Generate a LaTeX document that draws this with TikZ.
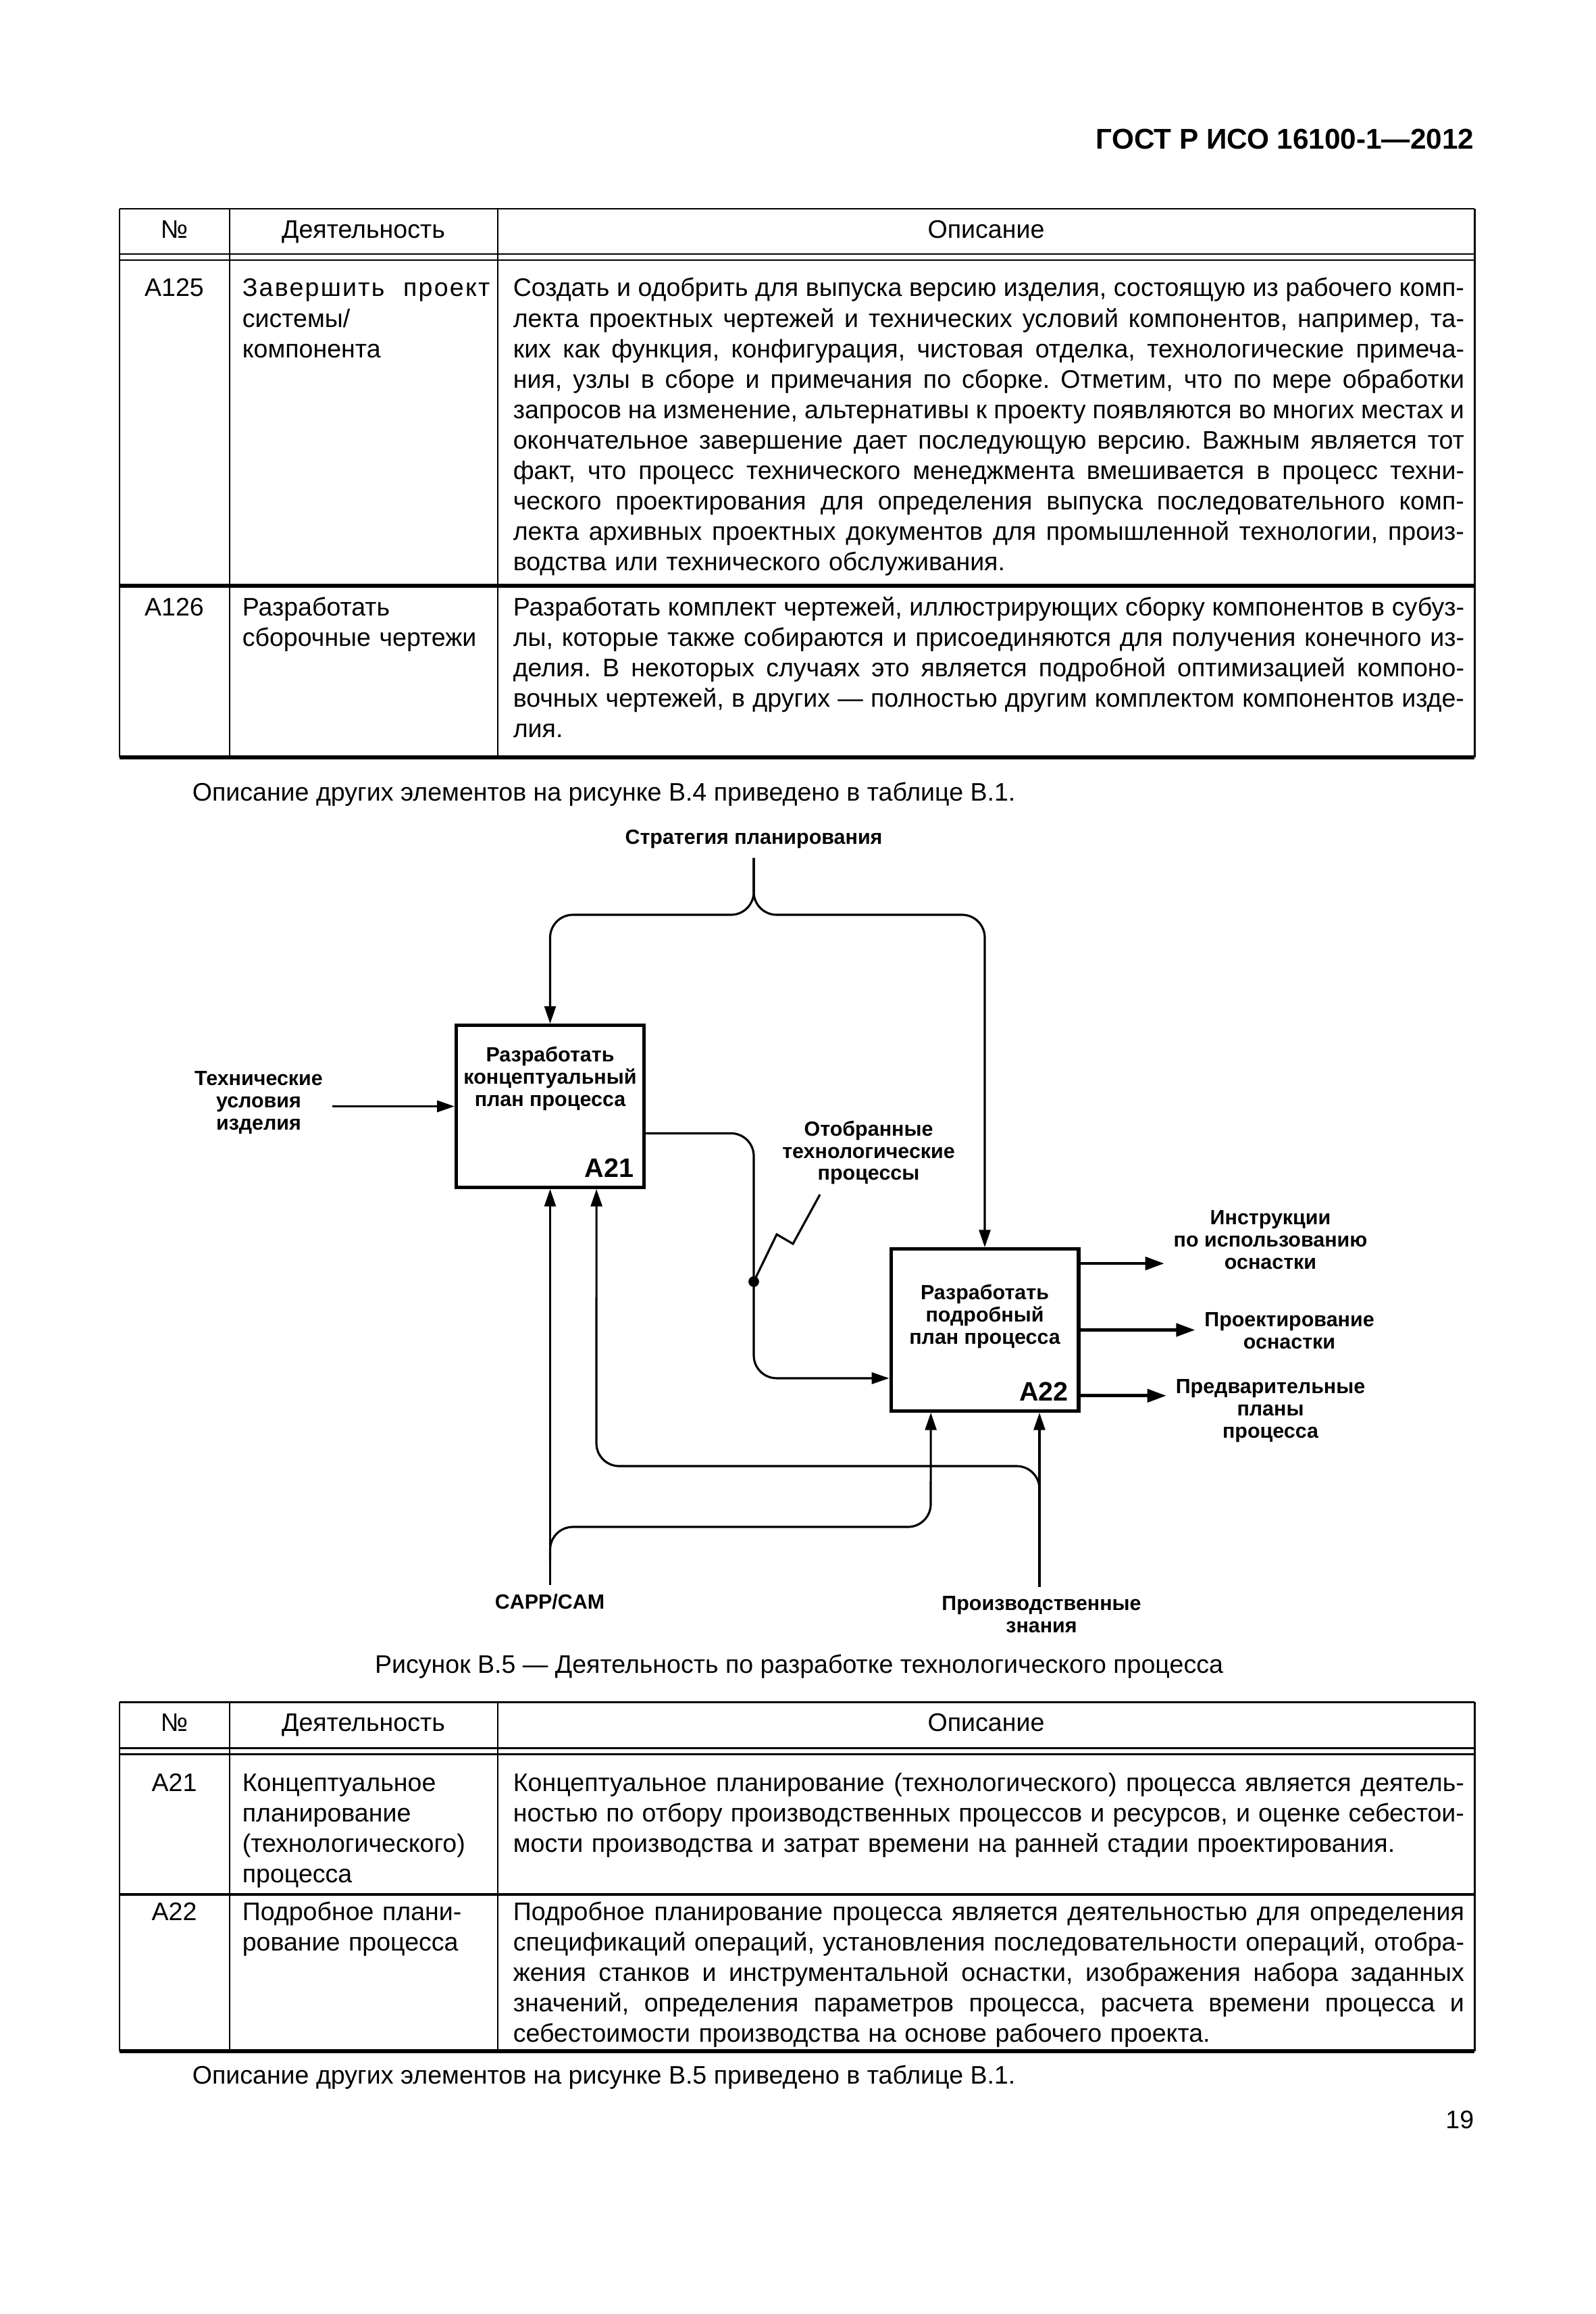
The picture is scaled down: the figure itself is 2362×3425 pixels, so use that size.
\documentclass[tikz,border=0pt]{standalone}
\usepackage{fontspec}
\setmainfont{Liberation Sans}
\usetikzlibrary{positioning, arrows.meta, calc}
\tikzstyle{block} = [rectangle, minimum width=24.7mm, minimum height=21.3mm, draw=black, line width=1.3pt]
\tikzstyle{arrow} = [line width=0.8pt, -{Triangle[length=2.3mm, width=1.5mm]}]
\tikzstyle{outarrow} = [line width=1.2pt, -{Triangle[length=2.5mm, width=1.7mm]}]
\tikzstyle{lbl} = [font=\fontsize{7.7}{8.3}\selectfont\bfseries, align=center]
\tikzstyle{idlabel} = [font=\fontsize{10}{12}\selectfont\bfseries, anchor=south east, inner sep=1.5mm]
\tikzstyle{cell} = [font=\fontsize{9.5}{11.4}\selectfont, anchor=base, inner sep=0]
\tikzstyle{celltext} = [cell, anchor=base west]
\tikzstyle{tablerule} = [line width=0.75pt]
\tikzstyle{thickrule} = [line width=1.5pt]
\newcommand{\justline}[1]{\leavevmode\hbox to 125.2mm{\spaceskip=.278em plus 1fil minus .08em\xspaceskip=\spaceskip\relax #1}}

\begin{document}
\frenchspacing
\begin{tikzpicture}[x=0.08891mm, y=-0.08891mm]
        \fill[white] (0,0) rectangle (2362,3425);
        \useasboundingbox (0,0) rectangle (2362,3425);
        \node[cell, anchor=base east, font=\fontsize{10.7}{12}\selectfont\bfseries] (gost) at (2183,221) {ГОСТ Р ИСО 16100-1—2012};

        % table A125, A126
        \draw[tablerule] (177,309) -- (2183,309) (177,376) -- (2183,376) (177,385) -- (2183,385);
        \draw[tablerule] (177,309) -- (177,1121) (340,309) -- (340,1121) (737,309) -- (737,1121) (2183,309) -- (2183,1121);
        \draw[thickrule] (177,867) -- (2183,867);
        \draw[thickrule] (177,1121) -- (2183,1121);
        \node[cell] (t1no) at (258,353) {№};
        \node[cell] (t1act) at (538,353) {Деятельность};
        \node[cell] (t1desc) at (1460,353) {Описание};
        \node[cell] (a125) at (258,439) {A125};
        \node[celltext, text width=32.6mm] (a125a) at (358,439) {\leavevmode\hbox to 32.6mm{\addfontfeature{LetterSpace=6}Завершить\hfill проект}\\системы/\\компонента};
        \node[celltext, text width=125.2mm] (a125d) at (759,439) {%
            \justline{Создать и одобрить для выпуска версию изделия, состоящую из рабочего комп-}\\
            \justline{лекта проектных чертежей и технических условий компонентов, например, та-}\\
            \justline{ких как функция, конфигурация, чистовая отделка, технологические примеча-}\\
            \justline{ния, узлы в сборе и примечания по сборке. Отметим, что по мере обработки}\\
            \justline{запросов на изменение, альтернативы к проекту появляются во многих местах и}\\
            \justline{окончательное завершение дает последующую версию. Важным является тот}\\
            \justline{факт, что процесс технического менеджмента вмешивается в процесс техни-}\\
            \justline{ческого проектирования для определения выпуска последовательного комп-}\\
            \justline{лекта архивных проектных документов для промышленной технологии, произ-}\\
            водства или технического обслуживания.};
        \node[cell] (a126) at (258,911) {A126};
        \node[celltext, text width=32.6mm] (a126a) at (358,911) {Разработать\\сборочные чертежи};
        \node[celltext, text width=125.2mm] (a126d) at (759,911) {%
            \justline{Разработать комплект чертежей, иллюстрирующих сборку компонентов в субуз-}\\
            \justline{лы, которые также собираются и присоединяются для получения конечного из-}\\
            \justline{делия. В некоторых случаях это является подробной оптимизацией компоно-}\\
            \justline{вочных чертежей, в других — полностью другим комплектом компонентов изде-}\\
            лия.};
        \node[celltext] (note4) at (284,1185) {Описание других элементов на рисунке В.4 приведено в таблице В.1.};

        % figure B.5
        \node[lbl] (strategy) at (1116,1242) {Стратегия планирования};
        \node[block] (a21) at (814.5,1637.5) {};
        \node[lbl] at ([yshift=3.65mm]a21.center) {Разработать\\концептуальный\\план процесса};
        \node[idlabel] at (a21.south east) {A21};
        \node[block] (a22) at (1458,1968.5) {};
        \node[lbl] at ([yshift=1.8mm]a22.center) {Разработать\\подробный\\план процесса};
        \node[idlabel] at (a22.south east) {A22};
        \node[lbl] (techspec) at (383,1632) {Технические\\условия\\изделия};
        \node[lbl] (selected) at (1286,1706) {Отобранные\\технологические\\процессы};
        \node[lbl] (instr) at (1881,1835) {Инструкции\\по использованию\\оснастки};
        \node[lbl] (tooling) at (1909,1970) {Проектирование\\оснастки};
        \node[lbl] (prelim) at (1881,2088) {Предварительные\\планы\\процесса};
        \node[lbl] (capp) at (814,2371) {CAPP/CAM};
        \node[lbl] (knowhow) at (1542,2390) {Производственные\\знания};
        \coordinate (split) at (1116,1354);
        \coordinate (jn) at (1116,1897);
        \coordinate (zig) at (1214,1768);
        \draw[arrow, rounded corners=3mm] (strategy.south) -- (split) -| (a21.north);
        \draw[arrow, rounded corners=3mm] (strategy.south) -- (split) -| (a22.north);
        \draw[arrow] (techspec.east |- a21.west) -- (a21.west);
        \draw[arrow, rounded corners=3mm] ([yshift=-3.55mm]a21.east) -| (jn) |- ([yshift=-6.35mm]a22.west);
        \fill (jn) circle (0.7mm);
        \draw[line width=0.8pt] (zig) -- (1174,1841) -- (1150,1827) -- (jn);
        \draw[outarrow] ([yshift=8.75mm]a22.east) -- ([yshift=8.75mm]a22.east -| instr.west);
        \draw[outarrow] (a22.east) -- (a22.east -| tooling.west);
        \draw[outarrow] ([yshift=-8.65mm]a22.east) -- ([yshift=-8.65mm]a22.east -| prelim.west);
        \draw[arrow] (a21.south |- capp.north) -- (a21.south);
        \draw[arrow] ([xshift=7.2mm]a22.south |- knowhow.north) -- ([xshift=7.2mm]a22.south);
        \draw[arrow, rounded corners=3mm] (814.5,2310) |- (1378,2260) -- ([xshift=-7.1mm]a22.south);
        \draw[arrow, rounded corners=3mm] (1539,2215) |- (883,2170) -- ([xshift=6.1mm]a21.south);
        \node[cell] (caption) at (1183,2476) {Рисунок В.5 — Деятельность по разработке технологического процесса};

        % table A21, A22
        \draw[tablerule] (177,2519) -- (2183,2519) (177,2587) -- (2183,2587) (177,2596) -- (2183,2596);
        \draw[tablerule] (177,2519) -- (177,3036) (340,2519) -- (340,3036) (737,2519) -- (737,3036) (2183,2519) -- (2183,3036);
        \draw[line width=1pt] (177,2804) -- (2183,2804);
        \draw[thickrule] (177,3036) -- (2183,3036);
        \node[cell] (t2no) at (258,2562) {№};
        \node[cell] (t2act) at (538,2562) {Деятельность};
        \node[cell] (t2desc) at (1460,2562) {Описание};
        \node[cell] (a21n) at (258,2651) {A21};
        \node[celltext, text width=32.6mm] (a21a) at (358,2651) {Концептуальное\\планирование\\(технологического)\\процесса};
        \node[celltext, text width=125.2mm] (a21d) at (759,2651) {%
            \justline{Концептуальное планирование (технологического) процесса является деятель-}\\
            \justline{ностью по отбору производственных процессов и ресурсов, и оценке себестои-}\\
            мости производства и затрат времени на ранней стадии проектирования.};
        \node[cell] (a22n) at (258,2842) {A22};
        \node[celltext, text width=32.6mm] (a22a) at (358,2842) {Подробное плани-\\рование процесса};
        \node[celltext, text width=125.2mm] (a22d) at (759,2842) {%
            \justline{Подробное планирование процесса является деятельностью для определения}\\
            \justline{спецификаций операций, установления последовательности операций, отобра-}\\
            \justline{жения станков и инструментальной оснастки, изображения набора заданных}\\
            \justline{значений, определения параметров процесса, расчета времени процесса и}\\
            себестоимости производства на основе рабочего проекта.};
        \node[celltext] (note5) at (284,3084) {Описание других элементов на рисунке В.5 приведено в таблице В.1.};
        \node[cell, anchor=base east] (pageno) at (2183,3150) {19};
    \end{tikzpicture}
\end{document}
